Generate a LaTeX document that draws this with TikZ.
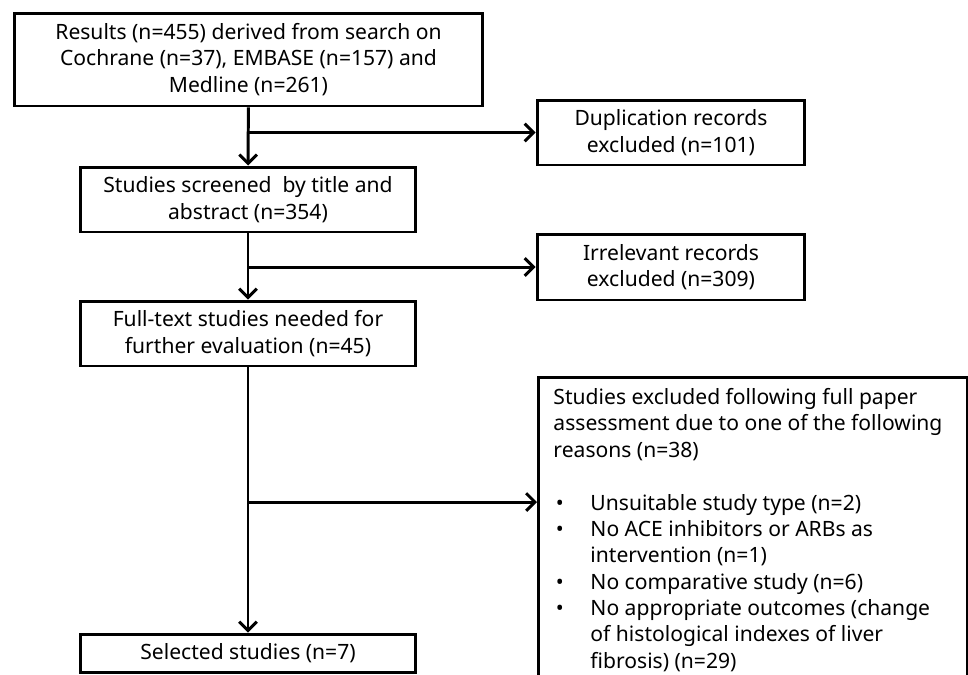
\documentclass[tikz,border=0pt]{standalone}
\usepackage{fontspec}
\setmainfont{Noto Sans}
\usetikzlibrary{shapes.geometric, arrows, arrows.meta}

\newcommand{\bul}{\makebox[0.74cm][l]{\hspace{0.05cm}\textbullet}}
\newcommand{\ind}{\hspace*{0.74cm}}

\begin{document}
\begin{tikzpicture}[x=0.02cm, y=-0.02cm, font=\fontsize{12}{15}\selectfont]
	\tikzstyle{rect} = [rectangle, text centered, align=center, draw=black, line width=1.7pt, inner sep=0pt]
	\tikzstyle{arrow} = [line width=1.7pt,->,>={Straight Barb[length=5pt,width=10pt]}]
	\useasboundingbox (0,0) rectangle (968,674);

	\node (res) at (248.5,59.5) [rect, minimum width=9.38cm, minimum height=1.86cm] {Results (n=455) derived from search on\\Cochrane (n=37), EMBASE (n=157) and\\Medline (n=261)};
	\node (scr) at (248,199.5) [rect, minimum width=6.72cm, minimum height=1.3cm] {Studies screened \ by title and\\abstract (n=354)};
	\node (full) at (248,333.5) [rect, minimum width=6.7cm, minimum height=1.3cm] {Full-text studies needed for\\further evaluation (n=45)};
	\node (sel) at (248,653) [rect, minimum width=6.7cm, minimum height=0.76cm] {Selected studies (n=7)};
	\node (dup) at (671,132.5) [rect, minimum width=5.36cm, minimum height=1.3cm] {Duplication records\\excluded (n=101)};
	\node (irr) at (671,267) [rect, minimum width=5.36cm, minimum height=1.32cm] {Irrelevant records\\excluded (n=309)};
	\node (excl) at (537,376) [rect, anchor=north west, inner xsep=0.3cm, inner ysep=0.22cm, align=left]
		{\parbox[t][6.2cm][t]{7.98cm}{Studies excluded following full paper\\
		assessment due to one of the following\\
		reasons (n=38)\\
		\mbox{}\\
		\bul Unsuitable study type (n=2)\\
		\bul No ACE inhibitors or ARBs as\\
		\ind intervention (n=1)\\
		\bul No comparative study (n=6)\\
		\bul No appropriate outcomes (change\\
		\ind of histological indexes of liver\\
		\ind fibrosis) (n=29)}};

	\coordinate (b3) at (248,502);

	\draw [arrow] (res) -- (scr);
	\draw [arrow] (scr) -- (full);
	\draw [arrow] (full) -- (sel);
	\draw [arrow] (res.south |- dup.west) -- (dup.west);
	\draw [arrow] (scr.south |- irr.west) -- (irr.west);
	\draw [arrow] (b3) -- (excl.west |- b3);

\end{tikzpicture}
\end{document}
